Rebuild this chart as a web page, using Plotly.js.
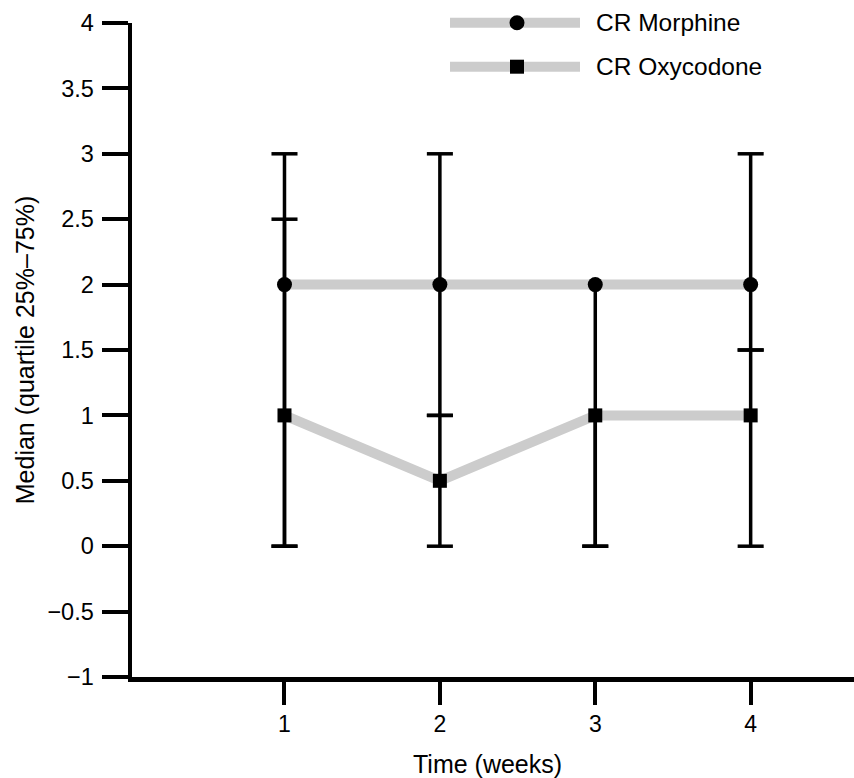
<!DOCTYPE html>
<html>
<head>
<meta charset="utf-8">
<script src="https://cdn.plot.ly/plotly-3.0.1.min.js"></script>
<style>
  html, body { margin: 0; padding: 0; background: #ffffff; }
  #chart { width: 854px; height: 778px; }
</style>
</head>
<body>
<div id="chart"></div>
<script>
// ---- data ----
const weeks = [1, 2, 3, 4];
const xTickLabels = ['1', '2', '3', '4'];
const yTickValues = [-1, -0.5, 0, 0.5, 1, 1.5, 2, 2.5, 3, 3.5, 4];

const morphineName = 'CR Morphine';
const morphineMedian = [2, 2, 2, 2];
const morphineQ1 = [0, 1, 0, 1.5];
const morphineQ3 = [3, 3, 2, 3];

const oxycodoneName = 'CR Oxycodone';
const oxycodoneMedian = [1, 0.5, 1, 1];
const oxycodoneQ1 = [0, 0, 0, 0];
const oxycodoneQ3 = [2.5, 1, 1, 1.5];

// ---- styles ----
const FONT = 'Liberation Sans, Arial, Helvetica, sans-serif';
const GREY = '#cccccc';

function whiskerTrace(x, q1, q3) {
  const xs = [], ys = [];
  x.forEach((v, i) => { xs.push(v, v, null); ys.push(q1[i], q3[i], null); });
  return { x: xs, y: ys, type: 'scatter', mode: 'lines', showlegend: false,
           hoverinfo: 'skip', line: { color: '#000', width: 3.5 }, connectgaps: false };
}
function capTrace(x, med, q1, q3) {
  const xs = [], ys = [];
  x.forEach((v, i) => {
    if (q1[i] !== med[i]) { xs.push(v); ys.push(q1[i]); }
    if (q3[i] !== med[i]) { xs.push(v); ys.push(q3[i]); }
  });
  return { x: xs, y: ys, type: 'scatter', mode: 'markers', showlegend: false, hoverinfo: 'skip',
           marker: { symbol: 'line-ew', size: 18.6, color: '#000', line: { color: '#000', width: 3.5 } } };
}

const traces = [
  { x: weeks, y: morphineMedian, name: morphineName, type: 'scatter', mode: 'lines',
    line: { color: GREY, width: 10 }, showlegend: false, hoverinfo: 'skip' },
  { x: weeks, y: oxycodoneMedian, name: oxycodoneName, type: 'scatter', mode: 'lines',
    line: { color: GREY, width: 10 }, showlegend: false, hoverinfo: 'skip' },
  whiskerTrace(weeks, morphineQ1, morphineQ3),
  whiskerTrace(weeks, oxycodoneQ1, oxycodoneQ3),
  capTrace(weeks, morphineMedian, morphineQ1, morphineQ3),
  capTrace(weeks, oxycodoneMedian, oxycodoneQ1, oxycodoneQ3),
  { x: weeks, y: morphineMedian, name: morphineName, type: 'scatter', mode: 'markers',
    marker: { symbol: 'circle', size: 15, color: '#000' }, showlegend: false },
  { x: weeks, y: oxycodoneMedian, name: oxycodoneName, type: 'scatter', mode: 'markers',
    marker: { symbol: 'square', size: 14, color: '#000' }, showlegend: false }
];

// manual legend (paper coordinates)
const L = 132, R = 0, T = 23, B = 101;
const plotW = 854 - L - R, plotH = 778 - T - B;
const px = v => (v - L) / plotW;
const py = v => (778 - B - v) / plotH;
const legendRows = [
  { name: morphineName, shape: 'circle', y: 22.7, half: 7.5 },
  { name: oxycodoneName, shape: 'rect', y: 66.7, half: 7 }
];
const shapes = [], annotations = [];
legendRows.forEach(r => {
  shapes.push({ type: 'line', xref: 'paper', yref: 'paper', x0: px(450), x1: px(580),
                y0: py(r.y), y1: py(r.y), line: { color: GREY, width: 10 } });
  shapes.push({ type: r.shape, xref: 'paper', yref: 'paper', xsizemode: 'pixel', ysizemode: 'pixel',
                xanchor: px(517), yanchor: py(r.y), x0: -r.half, x1: r.half, y0: -r.half, y1: r.half,
                fillcolor: '#000', line: { width: 0 } });
  annotations.push({ xref: 'paper', yref: 'paper', x: px(594), y: py(r.y), xanchor: 'left',
                     yanchor: 'middle', text: r.name, showarrow: false,
                     font: { family: FONT, size: 24.5, color: '#000' } });
});
annotations.push({ xref: 'paper', yref: 'paper', x: px(487), y: py(764), xanchor: 'center',
                   yanchor: 'middle', text: 'Time (weeks)', showarrow: false,
                   font: { family: FONT, size: 25, color: '#000' } });

const layout = {
  width: 854, height: 778,
  margin: { l: L, r: R, t: T, b: B, pad: 0 },
  paper_bgcolor: '#fff', plot_bgcolor: '#fff',
  showlegend: false,
  font: { family: FONT, color: '#000' },
  xaxis: {
    range: [0.0187, 4.665], tickvals: weeks, ticktext: xTickLabels,
    ticks: 'outside', ticklen: 23, tickwidth: 4, tickcolor: '#000',
    showline: true, linecolor: '#000', linewidth: 4.5,
    showgrid: false, zeroline: false, ticklabelstandoff: 0,
    tickfont: { family: FONT, size: 23, color: '#000' }
  },
  yaxis: {
    range: [-1, 4], tickvals: yTickValues,
    ticks: 'outside', ticklen: 26, tickwidth: 4, tickcolor: '#000',
    showline: true, linecolor: '#000', linewidth: 4.5,
    showgrid: false, zeroline: false, ticklabelstandoff: 3,
    tickfont: { family: FONT, size: 23.5, color: '#000' },
    title: { text: 'Median (quartile 25%–75%)', standoff: 7,
             font: { family: FONT, size: 25, color: '#000' } }
  },
  shapes: shapes,
  annotations: annotations
};

Plotly.newPlot('chart', traces, layout, { displayModeBar: false, staticPlot: true });
</script>
</body>
</html>
